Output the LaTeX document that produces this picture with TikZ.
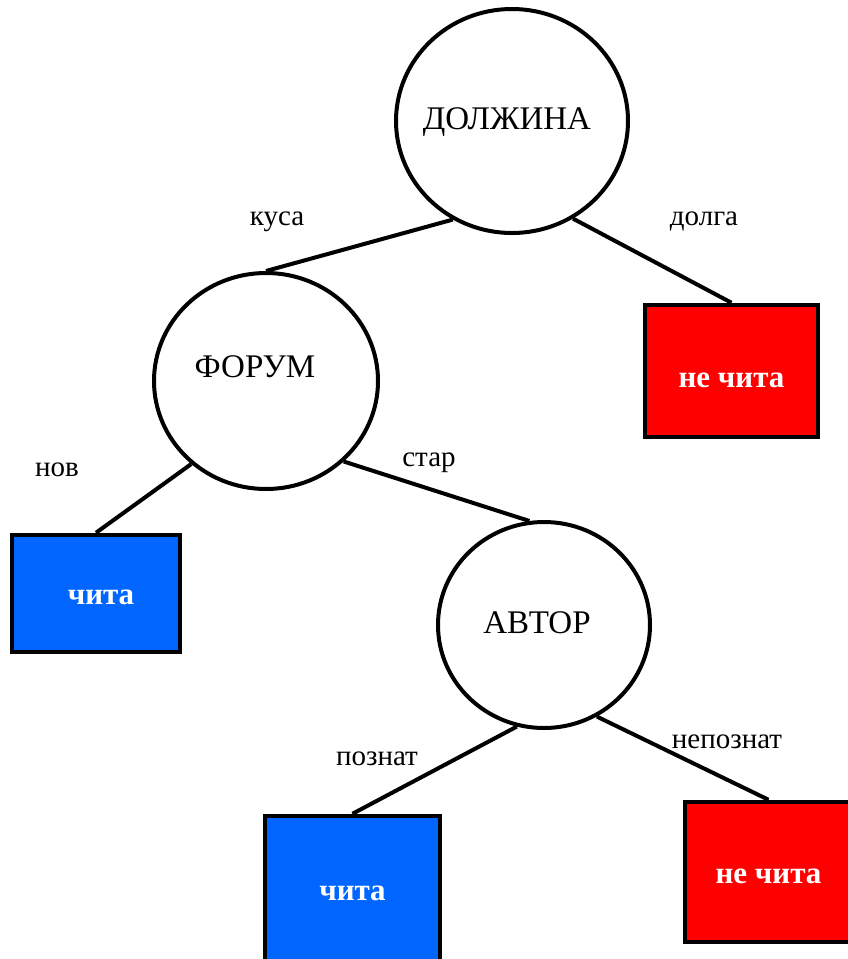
\documentclass[tikz,border=0pt]{standalone}
\usepackage{fontspec}
\setmainfont{Liberation Serif}
\usepackage{tikz}
\usetikzlibrary{positioning}
\usetikzlibrary{shapes.geometric}
\definecolor{yesblue}{HTML}{0066FF}
\definecolor{nored}{HTML}{FF0000}
\tikzset{attr/.style = {draw, ellipse, line width = 4, inner sep = 0,
                        font = \fontsize{33}{36}\selectfont}}
\tikzset{leaf/.style = {draw, rectangle, line width = 4.5, inner sep = 0,
                        text height = 22pt, text depth = 0pt,
                        text = white, font = \fontsize{31}{34}\selectfont\bfseries}}
\tikzset{yes/.style = {leaf, fill = yesblue}}
\tikzset{no/.style = {leaf, fill = nored}}
\tikzset{val/.style = {anchor = base, inner sep = 0, font = \fontsize{29}{32}\selectfont}}
\tikzset{edge/.style = {line width = 4}}

\begin{document}
\begin{tikzpicture}[x=1pt, y=-1pt]
      \useasboundingbox (0, 0) rectangle (848, 959);
      % attribute tests
      \node [attr, minimum width = 232, minimum height = 224,
             label = {[xshift = -5pt, yshift = -1pt, font = \fontsize{33}{36}\selectfont]center:ДОЛЖИНА}]
            (dolzhina) at (512, 121) {};
      \node [attr, minimum width = 224, minimum height = 216,
             label = {[xshift = -11pt, yshift = 14pt, font = \fontsize{33}{36}\selectfont]center:ФОРУМ}]
            (forum) at (266, 381) {};
      \node [attr, minimum width = 212, minimum height = 206,
             label = {[xshift = -7pt, yshift = 2pt, font = \fontsize{33}{36}\selectfont]center:АВТОР}]
            (avtor) at (544, 625) {};
      % leaves
      \node [no, minimum width = 173, minimum height = 132, text height = 32pt] (leafa) at (731.5, 371) {не чита};
      \node [yes, minimum width = 168, minimum height = 117] (leafb) at (96, 593.5) {\hspace{10pt}чита};
      \node [yes, minimum width = 175, minimum height = 146] (leafc) at (352.5, 889) {чита};
      \node [no, minimum width = 167, minimum height = 140] (leafd) at (768.5, 872) {не чита\hspace{10pt}};
      % branches
      \draw [edge] (dolzhina.239) -- (forum.north);
      \draw [edge] (dolzhina.302) -- (leafa.north);
      \draw [edge] (forum.228) -- (leafb.north);
      \draw [edge] (forum.314) -- (avtor.98);
      \draw [edge] (avtor.255) -- (leafc.north);
      \draw [edge] (avtor.300) -- (leafd.north);
      % branch values
      \node [val] (kusa) at (277, 225) {куса};
      \node [val] (dolga) at (704, 225) {долга};
      \node [val] (nov) at (57, 476) {нов};
      \node [val] (star) at (429, 466) {стар};
      \node [val] (poznat) at (377, 765) {познат};
      \node [val] (nepoznat) at (727, 748) {непознат};
    \end{tikzpicture}
\end{document}
